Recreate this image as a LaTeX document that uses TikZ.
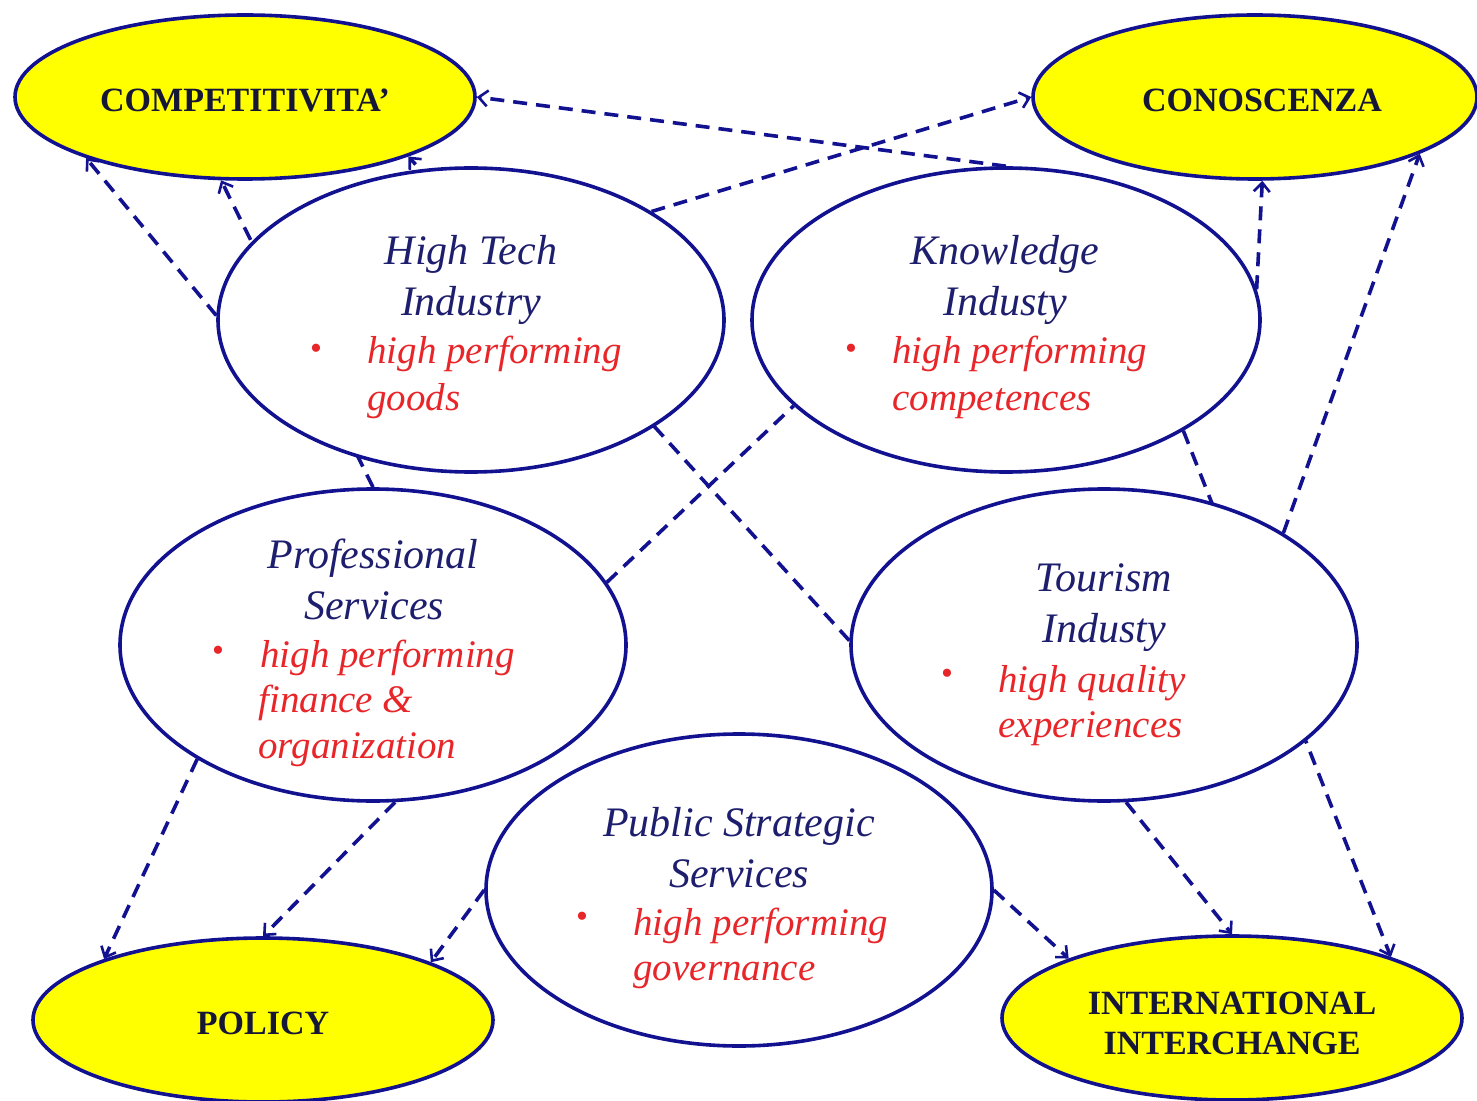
\documentclass[tikz,border=0pt]{standalone}
\usepackage{fontspec}
\setmainfont{Liberation Serif}
\usetikzlibrary{shapes.geometric,arrows.meta}
\pgfdeclarelayer{background}
\pgfsetlayers{background,main}
\definecolor{navy}{RGB}{18,18,145}
\definecolor{ink}{RGB}{30,30,110}
\definecolor{goalink}{RGB}{22,22,55}
\definecolor{redtxt}{RGB}{232,38,42}
\definecolor{yel}{RGB}{255,255,0}
\begin{document}
\begin{tikzpicture}[x=0.5pt,y=-0.5pt,
  goal/.style={ellipse,draw=navy,line width=1.8pt,fill=yel,inner sep=0pt},
  sector/.style={ellipse,draw=navy,line width=1.8pt,fill=white,inner sep=0pt},
  goaltxt/.style={font=\fontsize{17}{20}\selectfont\bfseries,text=goalink,inner sep=0pt},
  ttl/.style={font=\fontsize{21}{25}\selectfont\itshape,text=ink,inner sep=0pt,anchor=base},
  body/.style={font=\fontsize{19.5}{24}\selectfont\itshape,text=redtxt,inner sep=0pt,anchor=base west},
  bul/.style={font=\fontsize{17}{19}\selectfont,text=redtxt,inner sep=0pt},
  link/.style={draw=navy,line width=1.8pt,dash pattern=on 7pt off 4.5pt},
  tip/.style={-{Straight Barb[length=4.5pt,width=8pt,line width=1.3pt]}}]
\useasboundingbox (0,0) rectangle (1477,1101);
% goal ellipses (sizes in pt = half the pixel size)
\node[goal,minimum width=230pt,minimum height=82pt] (comp) at (245,97) {};
\node[goal,minimum width=222pt,minimum height=82pt] (cono) at (1255,97) {};
\node[goal,minimum width=230pt,minimum height=82pt] (pol) at (263,1020) {};
\node[goal,minimum width=230pt,minimum height=82pt] (int) at (1232,1018) {};
% sector ellipses
\node[sector,minimum width=253pt,minimum height=152pt] (ht) at (471,320) {};
\node[sector,minimum width=254pt,minimum height=152pt] (kn) at (1006,320) {};
\node[sector,minimum width=253pt,minimum height=156pt] (ps) at (373,645) {};
\node[sector,minimum width=253pt,minimum height=156pt] (to) at (1104,645) {};
\node[sector,minimum width=253pt,minimum height=156pt] (pss) at (739,890) {};
% goal texts
\node[goaltxt] (tcomp) at (245,100) {COMPETITIVITA'};
\node[goaltxt] (tcono) at (1262,100) {CONOSCENZA};
\node[goaltxt] (tpol) at (263,1023) {POLICY};
\node[goaltxt] (tint1) at (1232,1003) {INTERNATIONAL};
\node[goaltxt] (tint2) at (1232,1043) {INTERCHANGE};
% High Tech
\node[ttl] (ht1) at (471,265) {High Tech};
\node[ttl] (ht2) at (471,316) {Industry};
\node[bul] (htb) at (316,352) {\textbullet};
\node[body] (ht3) at (367,364) {high performing};
\node[body] (ht4) at (367,410) {goods};
% Knowledge
\node[ttl] (kn1) at (1005,265) {Knowledge};
\node[ttl] (kn2) at (1005,316) {Industy};
\node[bul] (knb) at (851,352) {\textbullet};
\node[body] (kn3) at (892,364) {high performing};
\node[body] (kn4) at (892,410) {competences};
% Professional
\node[ttl] (ps1) at (373,568) {Professional};
\node[ttl] (ps2) at (374,619) {Services};
\node[bul] (psb) at (218,654) {\textbullet};
\node[body] (ps3) at (260,667) {high performing};
\node[body] (ps4) at (258,712) {finance \&};
\node[body] (ps5) at (258,758) {organization};
% Tourism
\node[ttl] (to1) at (1104,591) {Tourism};
\node[ttl] (to2) at (1104,642) {Industy};
\node[bul] (tob) at (947,677) {\textbullet};
\node[body] (to3) at (998,692) {high quality};
\node[body] (to4) at (998,737) {experiences};
% Public Strategic
\node[ttl] (pss1) at (739,836) {Public Strategic};
\node[ttl] (pss2) at (739,887) {Services};
\node[bul] (pssb) at (582,920) {\textbullet};
\node[body] (pss3) at (633,935) {high performing};
\node[body] (pss4) at (633,980) {governance};
% connectors
\begin{pgfonlayer}{background}
\draw[link,tip] (ht.179) -- (comp.201);
\draw[link,tip] (ps.north) -- (comp.254);
\draw[link,tip] (to.179) -- (comp.340);
\draw[link,tip] (kn.north) -- (comp.east);
\draw[link,tip] (ht.31) -- (cono.west);
\draw[link,tip] (kn.7) -- (cono.275);
\draw[link,tip] (to.32) -- (cono.341);
\draw[link,tip] (kn.328) -- (int.21);
\draw[link,tip] (to.278) -- (int.north);
\draw[link,tip] (pss.east) -- (int.160);
\draw[link,tip] (pss.west) -- (pol.19);
\draw[link,tip] (ps.278) -- (pol.north);
\draw[link,tip] (ps.213) -- (pol.159);
\draw[link] (ps.15) -- (kn.202);
\end{pgfonlayer}
\end{tikzpicture}
\end{document}
